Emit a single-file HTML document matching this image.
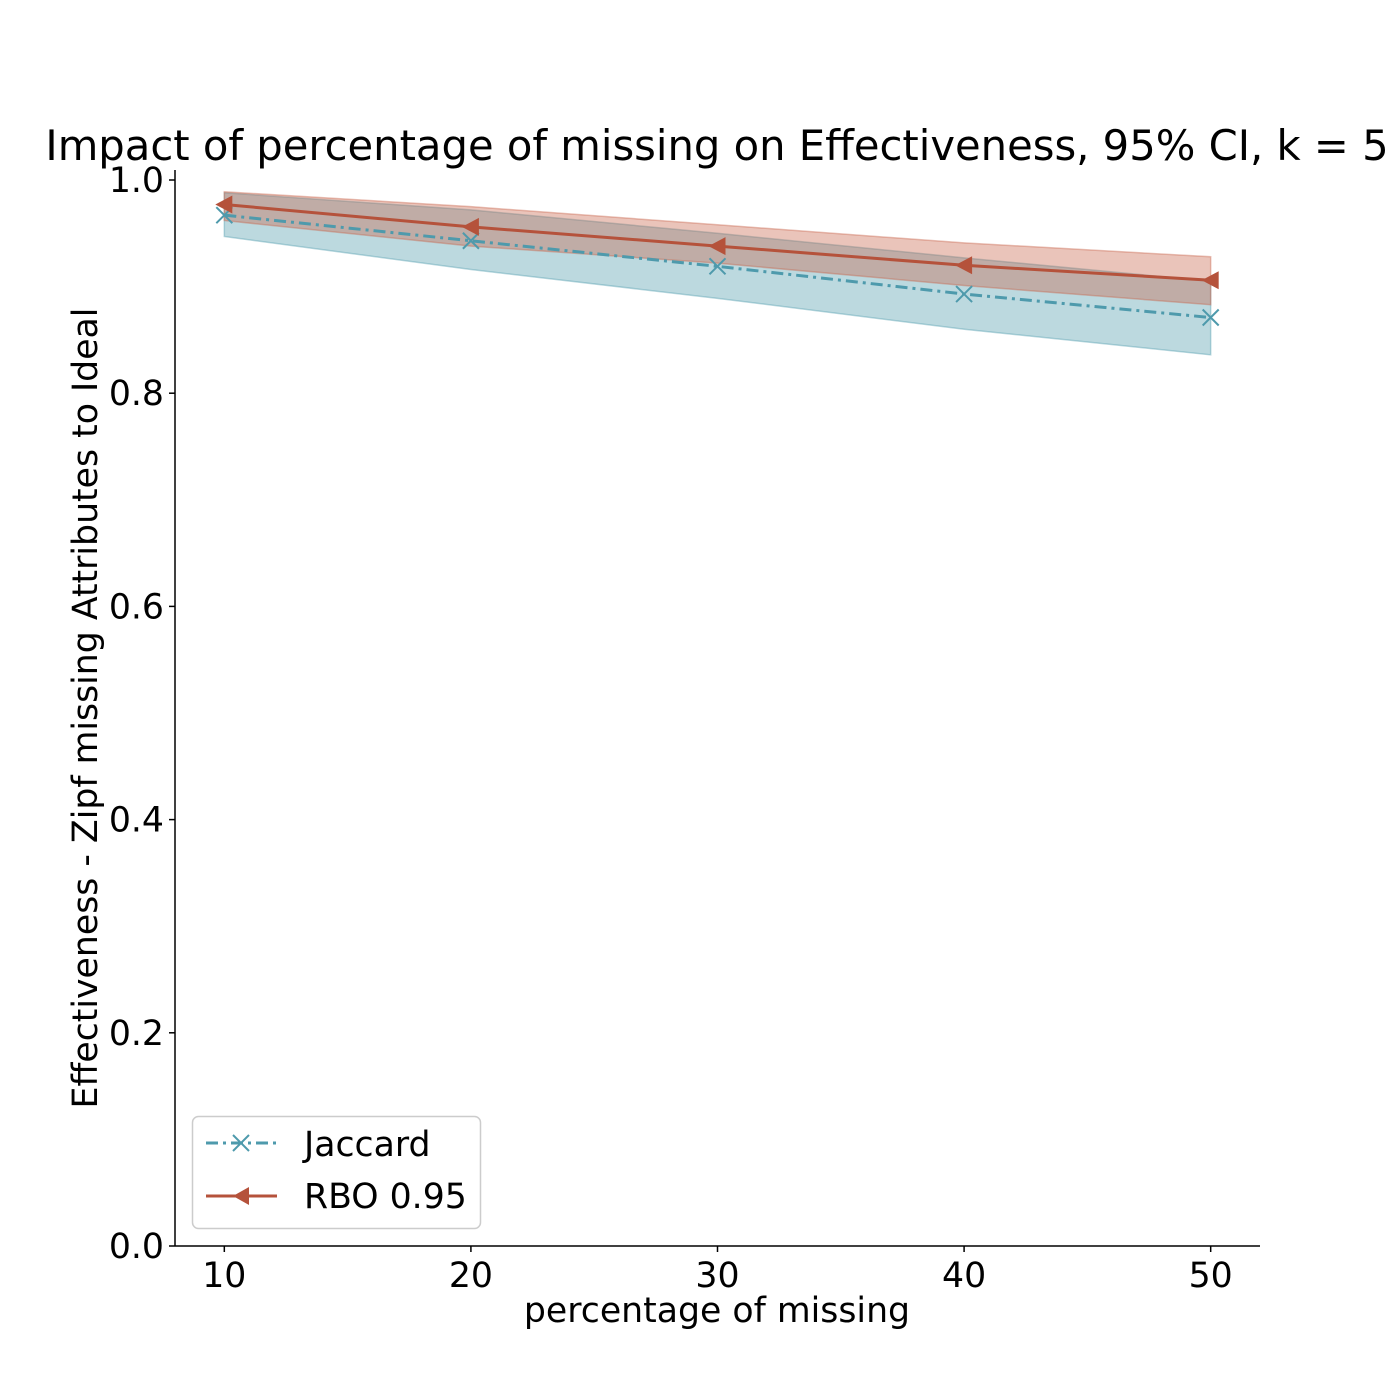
<!DOCTYPE html>
<html><head><meta charset="utf-8"><style>
html,body{margin:0;padding:0;background:#fff}
svg{display:block;font-family:"DejaVu Sans","Liberation Sans",sans-serif}
</style></head><body>
<svg id="chart" width="1400" height="1400" viewBox="0 0 1400 1400">
<rect width="1400" height="1400" fill="#fff"/>
<text x="717" y="160" font-size="41.7" text-anchor="middle">Impact of percentage of missing on Effectiveness, 95% CI, k = 5</text>
<g id="bands"></g><g id="lines"></g><g id="axes"></g>
<text x="717" y="1322" font-size="34.7" text-anchor="middle">percentage of missing</text>
<text transform="translate(97,708) rotate(-90)" font-size="34.7" text-anchor="middle">Effectiveness - Zipf missing Attributes to Ideal</text>
<g>
<rect x="192.5" y="1116.5" width="288" height="112" rx="6" fill="#fff" stroke="#ccc" stroke-width="1.5"/>
<g>
<line x1="206" y1="1143" x2="277" y2="1143" stroke="#4e9aac" stroke-width="3" stroke-dasharray="12,5,3,5"/>
<path d="M233,1135 L249,1151 M233,1151 L249,1135" stroke="#4e9aac" stroke-width="2"/>
<text x="304" y="1156" font-size="34.7">Jaccard</text></g>
<g>
<line x1="206" y1="1196" x2="277" y2="1196" stroke="#b5523b" stroke-width="3"/>
<path d="M233,1196 L249,1187 L249,1205 Z" fill="#b5523b"/>
<text x="304" y="1208" font-size="34.7">RBO 0.95</text></g>
</g>
</svg>
<script>
const xValues=[10,20,30,40,50];
const jaccardMean=[0.967,0.943,0.919,0.893,0.871];
const jaccardUpper=[0.988,0.972,0.950,0.927,0.905];
const jaccardLower=[0.947,0.916,0.889,0.860,0.836];
const rboMean=[0.977,0.956,0.938,0.920,0.906];
const rboUpper=[0.989,0.975,0.958,0.941,0.928];
const rboLower=[0.962,0.938,0.922,0.901,0.883];
const xTicks=[10,20,30,40,50];
const yTicks=[0.0,0.2,0.4,0.6,0.8,1.0];
const NS="http://www.w3.org/2000/svg";
const X0=175,X1=1260,Y0=1246,Y1=180;
function sx(v){return X0+(v-8)/(52-8)*(X1-X0);}
function sy(v){return Y0-(v-0)/(1.0)*(Y0-Y1);}
function mk(tag,attrs,parent){const e=document.createElementNS(NS,tag);for(const k in attrs)e.setAttribute(k,attrs[k]);parent.appendChild(e);return e;}
const bands=document.getElementById('bands'),lines=document.getElementById('lines'),axes=document.getElementById('axes');
function band(up,lo,col,name){
  let pts=xValues.map((x,i)=>sx(x)+','+sy(up[i]));
  for(let i=xValues.length-1;i>=0;i--)pts.push(sx(xValues[i])+','+sy(lo[i]));
  const p=mk('polygon',{points:pts.join(' '),fill:col,'fill-opacity':0.38,stroke:col,'stroke-opacity':0.4,'stroke-width':1.5},bands);
  
  
}
band(jaccardUpper,jaccardLower,'#4e9aac','jaccard-ci-band');
band(rboUpper,rboLower,'#c8654a','rbo-ci-band');
const jl=mk('polyline',{points:xValues.map((x,i)=>sx(x)+','+sy(jaccardMean[i])).join(' '),fill:'none',stroke:'#4e9aac','stroke-width':3,'stroke-dasharray':'12,5,3,5'},lines);


xValues.forEach((x,i)=>{const cx=sx(x),cy=sy(jaccardMean[i]);
  const m=mk('path',{d:`M${cx-8},${cy-8} L${cx+8},${cy+8} M${cx-8},${cy+8} L${cx+8},${cy-8}`,stroke:'#4e9aac','stroke-width':2},lines);
  
  });
const rl=mk('polyline',{points:xValues.map((x,i)=>sx(x)+','+sy(rboMean[i])).join(' '),fill:'none',stroke:'#b5523b','stroke-width':3},lines);


xValues.forEach((x,i)=>{const cx=sx(x),cy=sy(rboMean[i]);
  const m=mk('path',{d:`M${cx-9},${cy} L${cx+8},${cy-9} L${cx+8},${cy+9} Z`,fill:'#b5523b'},lines);
  
  });
const ya=mk('line',{x1:X0,y1:Y1-10,x2:X0,y2:Y0,stroke:'#000','stroke-width':1.5},axes);


const xa=mk('line',{x1:X0,y1:Y0,x2:X1,y2:Y0,stroke:'#000','stroke-width':1.5},axes);


xTicks.forEach(t=>{const x=sx(t);
  mk('line',{x1:x,y1:Y0,x2:x,y2:Y0+6,stroke:'#000','stroke-width':1.5},axes);
  const tx=mk('text',{x:x,y:Y0+41,'font-size':34.7,'text-anchor':'middle'},axes);tx.textContent=t;
  
  });
yTicks.forEach(t=>{const y=sy(t);
  mk('line',{x1:X0-6,y1:y,x2:X0,y2:y,stroke:'#000','stroke-width':1.5},axes);
  const tx=mk('text',{x:X0-11,y:y+12,'font-size':34.7,'text-anchor':'end'},axes);tx.textContent=t.toFixed(1);
  
  });
</script>
</body></html>
